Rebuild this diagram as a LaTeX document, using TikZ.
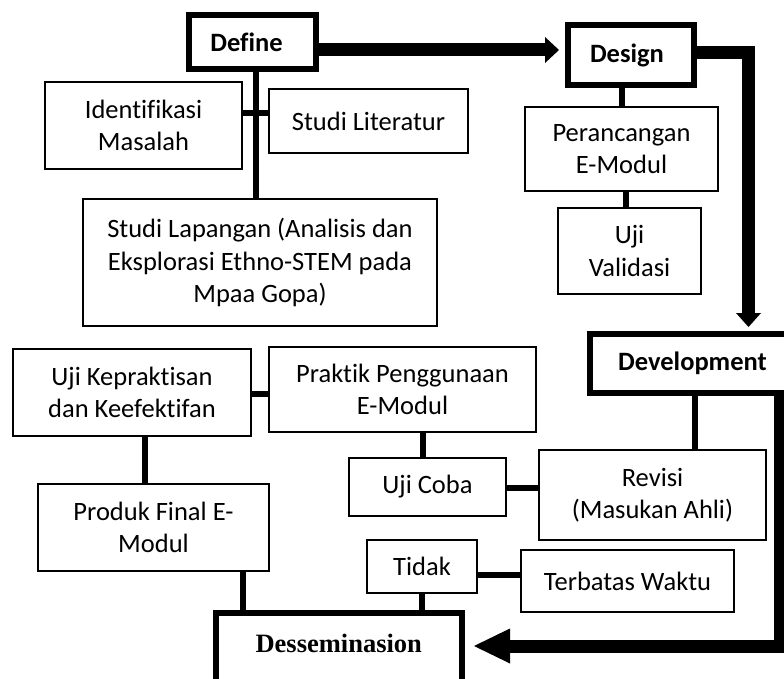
\documentclass[tikz,border=0pt]{standalone}
\usepackage{fontspec}
\setmainfont[Ligatures={NoCommon}]{Carlito}
\newfontfamily\tnrfont{Liberation Serif}
\usetikzlibrary{arrows.meta,calc}
\newcommand\mytxt{\fontsize{26.5}{32.5}\selectfont}
\begin{document}
\begin{tikzpicture}[x=1pt,y=-1pt,
  sz/.style 2 args={minimum width=#1pt, minimum height=#2pt},
  box/.style={draw, line width=2pt, inner sep=0pt, align=center, font=\mytxt},
  hbox/.style={draw, line width=6pt, inner sep=0pt, align=center, font=\mytxt\bfseries},
  conn/.style={line width=6pt},
  bigarr/.style={line width=13pt, line join=miter}]
\useasboundingbox (0,0) rectangle (784,679);
\clip (0,0) rectangle (784,679);
\fill[white] (0,0) rectangle (784,679);

\node[hbox, sz={127}{54}] (define) at (252.5,42) {Define\hspace*{12pt}};
\node[box, sz={197}{87}] (ident) at (143.5,125.5) {Identifikasi\\Masalah};
\node[box, sz={199}{64}] (lit) at (368.5,121) {Studi Literatur};
\node[box, sz={354}{126.5}] (lap) at (260,262.5) {Studi Lapangan (Analisis dan\\Eksplorasi Ethno-STEM pada\\Mpaa Gopa)};
\node[hbox, sz={126}{60}] (design) at (631,55) {Design\hspace*{8pt}};
\node[box, sz={193}{84}] (ranc) at (621.5,149) {Perancangan\\E-Modul};
\node[box, sz={143}{86}] (val) at (629.5,251) {Uji\\Validasi};
\node[hbox, sz={205}{59}] (dev) at (692.5,363) {Development};
\node[box, sz={267}{85}] (prak) at (402.5,389.5) {Praktik Penggunaan\\E-Modul};
\node[box, sz={238}{87}] (kep) at (132,392.5) {Uji Kepraktisan\\dan Keefektifan};
\node[box, sz={231}{87}] (prod) at (153.5,527.5) {Produk Final E-\\Modul};
\node[box, sz={157}{58}] (coba) at (427.5,487) {Uji Coba};
\node[box, sz={227}{90}] (rev) at (652.5,495) {Revisi\\(Masukan Ahli)};
\node[box, sz={110}{53}] (tidak) at (422,566.5) {Tidak};
\node[box, sz={213}{62}] (terb) at (627.5,581) {Terbatas Waktu};
\node[hbox, font={\tnrfont\bfseries\fontsize{26.5}{32}\selectfont}, minimum width=245.5pt,
      text height=39.5pt, text depth=70pt, anchor=north] (dess) at (338.75,609.5) {Desseminasion};

\draw[conn] ([xshift=3.5pt]define.south) -- ([xshift=3.5pt]define.south |- lap.north);
\draw[conn] (ident.east |- 0,113.5) -- (lit.west |- 0,113.5);
\draw[conn] (ranc.north) -- (ranc.north |- design.south);
\draw[conn] ([xshift=-3.5pt]val.north) -- ([xshift=-3.5pt]val.north |- ranc.south);
\draw[conn] ([yshift=-1.5pt]kep.east) -- ([yshift=-1.5pt]kep.east -| prak.west);
\draw[conn] ([xshift=13pt]kep.south) -- ([xshift=13pt]kep.south |- prod.north);
\draw[conn] ([xshift=89.5pt]prod.south) -- ([xshift=89.5pt]prod.south |- dess.north);
\draw[conn] ([xshift=-4.5pt]coba.north) -- ([xshift=-4.5pt]coba.north |- prak.south);
\draw[conn] ([yshift=-1pt]coba.east) -- ([yshift=-1pt]coba.east -| rev.west);
\draw[conn] ([xshift=42.5pt]rev.north) -- ([xshift=42.5pt]rev.north |- dev.south);
\draw[conn] ([yshift=-8.5pt]tidak.east) -- ([yshift=-8.5pt]tidak.east -| terb.west);
\draw[conn] (tidak.south) -- (tidak.south |- dess.north);

\draw[bigarr, -{Triangle[length=14pt,width=26pt,line width=0pt]}]
  ([yshift=-8pt]define.east) -- ([yshift=-8pt, xshift=-6pt]define.east -| design.west);
\draw[bigarr, -{Triangle[length=14pt,width=25pt,line width=0pt]}]
  ([yshift=2.5pt]design.east) -| ([yshift=3.5pt]dev.north -| 748.5,0);
\draw[bigarr, -{Triangle[length=36pt,width=35pt,line width=0pt]}]
  (dev.south -| 780.5,0) |- ([xshift=9.5pt]dess.east |- 0,646);
\end{tikzpicture}
\end{document}
